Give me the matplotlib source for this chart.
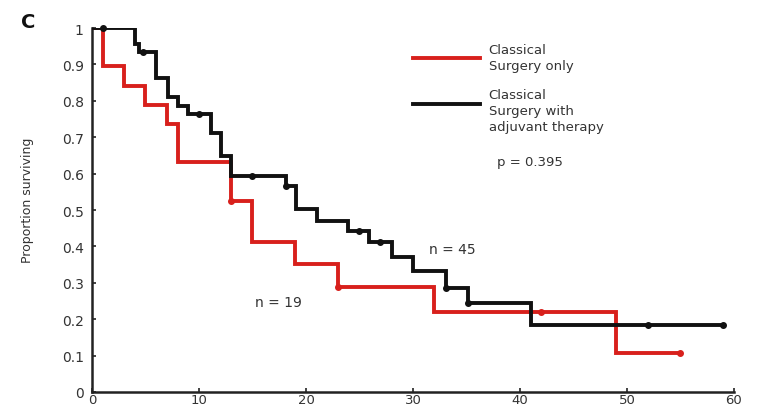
import numpy as np
import matplotlib
matplotlib.use("Agg")
import matplotlib.pyplot as plt

# Kaplan-Meier curves: step times (months) and survival after each step
surgery_only_times = [0, 1, 3, 5, 7, 8, 13, 15, 19, 23, 32, 49, 55]
surgery_only_surv = [1.0, 0.895, 0.842, 0.789, 0.737, 0.632, 0.526, 0.411,
                     0.351, 0.289, 0.219, 0.108, 0.108]
surgery_only_censored = [13, 23, 42, 55]

adjuvant_times = [0, 4, 4.4, 6, 7.15, 8, 9, 11.1, 12.1, 13, 18.1, 19.1, 21,
                  23.9, 25.9, 28, 30, 33.1, 35.1, 41, 59]
adjuvant_surv = [1.0, 0.956, 0.933, 0.862, 0.81, 0.785, 0.763, 0.713, 0.649,
                 0.594, 0.566, 0.502, 0.470, 0.443, 0.411, 0.372, 0.333,
                 0.287, 0.244, 0.183, 0.183]
adjuvant_censored = [1, 4.8, 10, 15, 18.1, 25, 26.9, 33.1, 35.1, 52, 59]

x_ticks = [0, 10, 20, 30, 40, 50, 60]
y_ticks = [0, 0.1, 0.2, 0.3, 0.4, 0.5, 0.6, 0.7, 0.8, 0.9, 1]
y_tick_labels = ["0", "0.1", "0.2", "0.3", "0.4", "0.5", "0.6", "0.7",
                 "0.8", "0.9", "1"]

legend_labels = ["Classical\nSurgery only",
                 "Classical\nSurgery with\nadjuvant therapy"]
p_text = "p = 0.395"
n_labels = ["n = 19", "n = 45"]

RED = "#d8201c"
BLACK = "#111111"


def surv_at(times, surv, t):
    idx = np.searchsorted(np.asarray(times), t, side="right") - 1
    return np.asarray(surv)[idx]


fig = plt.figure(figsize=(7.57, 4.10), dpi=100)
ax = fig.add_axes([0.1215, 0.0415, 0.848, 0.8875])

for times, surv, cens, color in [
    (surgery_only_times, surgery_only_surv, surgery_only_censored, RED),
    (adjuvant_times, adjuvant_surv, adjuvant_censored, BLACK),
]:
    ax.step(times, surv, where="post", color=color, lw=2.8,
            solid_joinstyle="miter", zorder=3)
    ax.plot(cens, surv_at(times, surv, cens), "o", color=color, ms=4,
            zorder=4, clip_on=False)

ax.set_xlim(0, 60)
ax.set_ylim(0, 1)
ax.set_xticks(x_ticks)
ax.set_yticks(y_ticks)
ax.set_yticklabels(y_tick_labels)
for side in ("top", "right"):
    ax.spines[side].set_visible(False)
for side in ("left", "bottom"):
    ax.spines[side].set_linewidth(1.8)
    ax.spines[side].set_color("#222222")
ax.tick_params(direction="in", length=3, width=1.2, colors="#222222",
               labelsize=10, labelcolor="#333333")
ax.tick_params(axis="y", pad=6)
ax.tick_params(axis="x", pad=1, labelsize=9.5)
ax.set_ylabel("Proportion surviving", fontsize=9, color="#333333")
ax.yaxis.set_label_coords(-0.09, 0.53)

# legend drawn by hand
ax.plot([0.5, 0.604], [0.918, 0.918], transform=ax.transAxes, color=RED,
        lw=2.8)
ax.plot([0.5, 0.604], [0.791, 0.791], transform=ax.transAxes, color=BLACK,
        lw=2.8)
ax.text(0.618, 0.96, legend_labels[0], transform=ax.transAxes, fontsize=9.5,
        color="#333333", va="top", linespacing=1.3)
ax.text(0.618, 0.835, legend_labels[1], transform=ax.transAxes, fontsize=9.5,
        color="#333333", va="top", linespacing=1.3)
ax.text(0.631, 0.633, p_text, transform=ax.transAxes, fontsize=9.5,
        color="#333333", va="center")

ax.text(15.2, 0.247, n_labels[0], fontsize=10, color="#333333", va="center")
ax.text(31.5, 0.392, n_labels[1], fontsize=10, color="#333333", va="center")

fig.text(0.037, 0.946, "C", fontsize=14, fontweight="bold", color="#111111",
         ha="center", va="center")

fig.savefig("out.png", dpi=100, facecolor="white")
